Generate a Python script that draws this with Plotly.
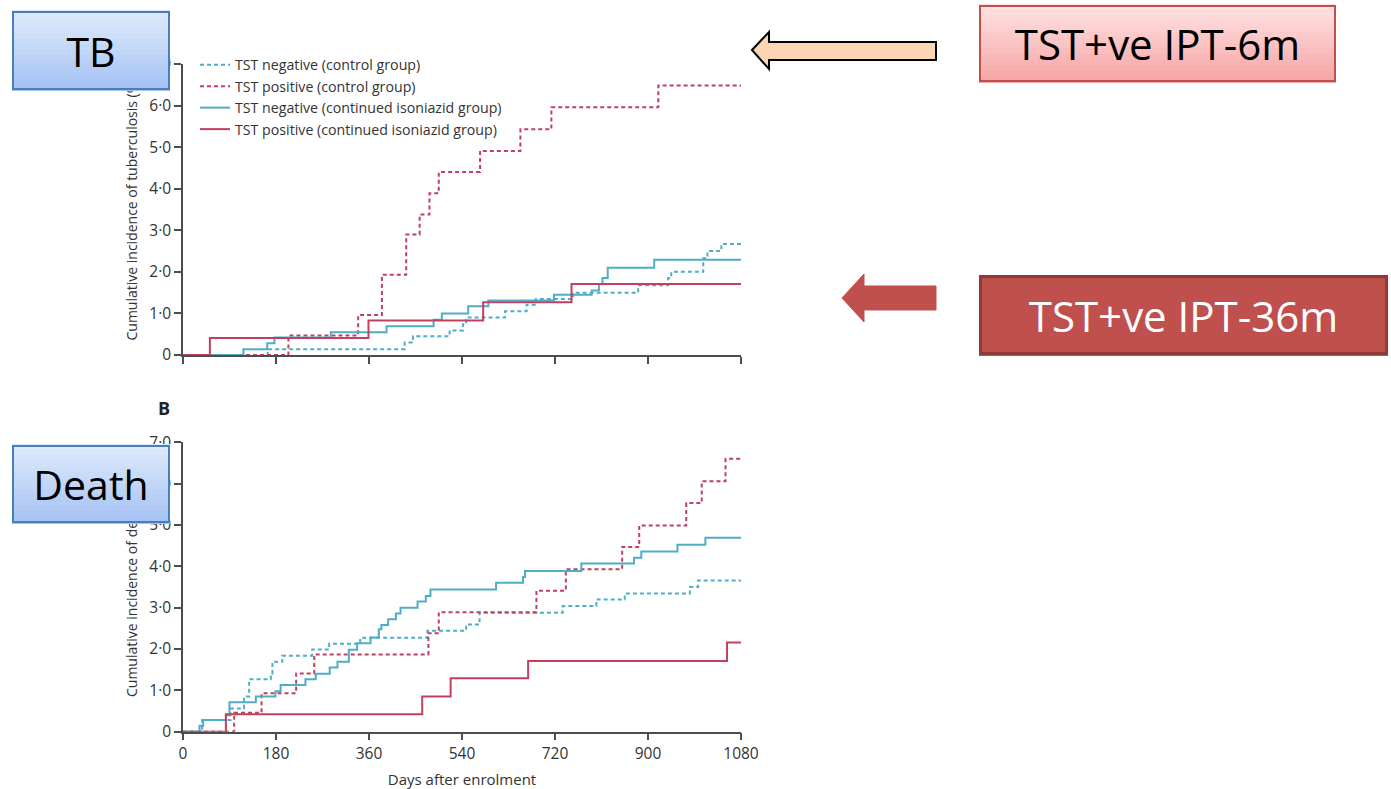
import plotly.graph_objects as go

W, H = 1391, 789

# ---------------- data ----------------
x_ticks = [0, 180, 360, 540, 720, 900, 1080]
x_tick_labels = ["0", "180", "360", "540", "720", "900", "1080"]
y_ticks = [0, 1, 2, 3, 4, 5, 6, 7]
y_tick_labels = ["0", "1·0", "2·0", "3·0", "4·0", "5·0", "6·0", "7·0"]

series_names = [
    "TST negative (control group)",
    "TST positive (control group)",
    "TST negative (continued isoniazid group)",
    "TST positive (continued isoniazid group)",
]

# Panel A: cumulative incidence of tuberculosis (%)
tb_neg_ctrl_days = [0, 164, 429, 445, 516, 542, 548, 623, 665, 683, 755, 881, 939, 945, 1007, 1015, 1042, 1080]
tb_neg_ctrl_vals = [0, 0.14, 0.30, 0.45, 0.59, 0.74, 0.90, 1.05, 1.21, 1.35, 1.50, 1.68, 1.85, 2.00, 2.33, 2.50, 2.67, 2.67]
tb_pos_ctrl_days = [0, 204, 339, 385, 432, 458, 477, 495, 575, 653, 713, 920, 1080]
tb_pos_ctrl_vals = [0, 0.47, 0.96, 1.93, 2.90, 3.38, 3.89, 4.40, 4.91, 5.43, 5.96, 6.48, 6.48]
tb_neg_ipt_days = [0, 117, 163, 177, 286, 394, 485, 501, 552, 591, 718, 791, 805, 812, 822, 912, 1080]
tb_neg_ipt_vals = [0, 0.14, 0.28, 0.42, 0.55, 0.69, 0.85, 1.00, 1.17, 1.31, 1.45, 1.55, 1.70, 1.85, 2.10, 2.29, 2.29]
tb_pos_ipt_days = [0, 52, 359, 581, 752, 1080]
tb_pos_ipt_vals = [0, 0.41, 0.83, 1.27, 1.71, 1.71]

# Panel B: cumulative incidence of death (%)
d_neg_ctrl_days = [0, 37, 92, 118, 128, 170, 173, 192, 250, 283, 343, 473, 548, 574, 735, 800, 855, 981, 997, 1080]
d_neg_ctrl_vals = [0, 0.28, 0.56, 0.85, 1.27, 1.41, 1.69, 1.84, 1.99, 2.13, 2.27, 2.44, 2.59, 2.88, 3.04, 3.20, 3.34, 3.50, 3.66, 3.66]
d_pos_ctrl_days = [0, 99, 152, 219, 254, 475, 495, 684, 741, 850, 883, 974, 1004, 1050, 1080]
d_pos_ctrl_vals = [0, 0.46, 0.93, 1.41, 1.87, 2.38, 2.89, 3.41, 3.93, 4.47, 4.99, 5.53, 6.06, 6.60, 6.60]
d_neg_ipt_days = [0, 32, 39, 83, 90, 141, 179, 189, 237, 257, 284, 299, 321, 337, 363, 379, 384, 397, 412, 421,
                  454, 470, 479, 606, 658, 662, 771, 873, 887, 957, 1011, 1080]
d_neg_ipt_vals = [0, 0.145, 0.28, 0.40, 0.71, 0.85, 0.98, 1.13, 1.27, 1.40, 1.55, 1.69, 1.98, 2.14, 2.28, 2.48, 2.58,
                  2.72, 2.86, 3.00, 3.15, 3.28, 3.44, 3.60, 3.74, 3.89, 4.07, 4.21, 4.36, 4.52, 4.69, 4.69]
d_pos_ipt_days = [0, 83, 463, 518, 668, 1053, 1080]
d_pos_ipt_vals = [0, 0.42, 0.85, 1.29, 1.71, 2.16, 2.16]

# ---------------- styling ----------------
TEAL = "#4fadc6"
RED = "#c0405e"
DASH = "4px,3px"
FONT = "Open Sans"
AX = "#4d4d4d"
TXT = "#333333"


def px(x):
    return x / W


def py(y):
    return 1 - y / H


styles = [
    dict(color=TEAL, dash=DASH, width=2),
    dict(color=RED, dash=DASH, width=2),
    dict(color=TEAL, dash="solid", width=2),
    dict(color=RED, dash="solid", width=2),
]

fig = go.Figure()
top = [(tb_neg_ctrl_days, tb_neg_ctrl_vals), (tb_pos_ctrl_days, tb_pos_ctrl_vals),
       (tb_neg_ipt_days, tb_neg_ipt_vals), (tb_pos_ipt_days, tb_pos_ipt_vals)]
bot = [(d_neg_ctrl_days, d_neg_ctrl_vals), (d_pos_ctrl_days, d_pos_ctrl_vals),
       (d_neg_ipt_days, d_neg_ipt_vals), (d_pos_ipt_days, d_pos_ipt_vals)]

for i, (d, v) in enumerate(top):
    fig.add_trace(go.Scatter(x=d, y=v, mode="lines", line=dict(shape="hv", **styles[i]),
                             name=series_names[i], xaxis="x", yaxis="y", legendgroup=str(i)))
for i, (d, v) in enumerate(bot):
    fig.add_trace(go.Scatter(x=d, y=v, mode="lines", line=dict(shape="hv", **styles[i]),
                             name=series_names[i], xaxis="x2", yaxis="y2", legendgroup=str(i),
                             showlegend=False))

xdom = [px(183), px(741)]
axis_common = dict(showline=True, linecolor=AX, linewidth=1.5, ticks="outside", ticklen=7,
                   tickcolor=AX, tickwidth=1.5, showgrid=False, zeroline=False,
                   tickfont=dict(family=FONT, size=15.5, color=TXT))

fig.update_layout(
    width=W, height=H, margin=dict(l=0, r=0, t=0, b=0, autoexpand=False),
    paper_bgcolor="white", plot_bgcolor="white",
    font=dict(family=FONT, size=14, color=TXT),
    xaxis=dict(domain=xdom, range=[0, 1080], anchor="y", tickvals=x_ticks, showticklabels=False, **axis_common),
    yaxis=dict(domain=[py(355), py(64)], range=[0, 7], anchor="x", tickvals=y_ticks, ticktext=y_tick_labels,
               **axis_common),
    xaxis2=dict(domain=xdom, range=[0, 1080], anchor="y2", tickvals=x_ticks, ticktext=x_tick_labels,
                title=dict(text="Days after enrolment", standoff=11, font=dict(family=FONT, size=15, color=TXT)),
                **axis_common),
    yaxis2=dict(domain=[py(731.7), py(442.3)], range=[0, 7], anchor="x2", tickvals=y_ticks,
                ticktext=y_tick_labels, **axis_common),
    legend=dict(x=px(195), y=py(49), xanchor="left", yanchor="top", bgcolor="rgba(0,0,0,0)",
                font=dict(family=FONT, size=14.2, color=TXT), tracegroupgap=0, itemwidth=30),
    showlegend=True,
)

ann = []
# y-axis titles (as annotations so the label boxes can sit on top of them)
ann.append(dict(text="Cumulative incidence of tuberculosis (%)", x=px(131), y=py(209.5), xref="paper",
                yref="paper", xanchor="center", yanchor="middle", textangle=-90, showarrow=False,
                font=dict(family=FONT, size=14, color=TXT)))
ann.append(dict(text="Cumulative incidence of death (%)", x=px(131), y=py(587), xref="paper",
                yref="paper", xanchor="center", yanchor="middle", textangle=-90, showarrow=False,
                font=dict(family=FONT, size=14, color=TXT)))
ann.append(dict(text="<b>B</b>", x=px(164), y=py(408), xref="paper", yref="paper", showarrow=False,
                xanchor="center", yanchor="middle", font=dict(family=FONT, size=18, color="#222")))


def lerp(c1, c2, t):
    return "rgb(%d,%d,%d)" % tuple(round(a + (b - a) * t) for a, b in zip(c1, c2))


def label_box(x0, y0, x1, y1, ctop, cbot, border, bw, text, fcolor, fsize, n=14):
    h = (y1 - y0) / n
    for i in range(n):
        yc = y0 + (i + 0.5) * h
        t = i / (n - 1) if n > 1 else 0
        ann.append(dict(text=" ", x=px((x0 + x1) / 2), y=py(yc), xref="paper", yref="paper",
                        xanchor="center", yanchor="middle", showarrow=False, width=x1 - x0,
                        height=h + 1, bgcolor=lerp(ctop, cbot, t), borderpad=0, borderwidth=0))
    ann.append(dict(text=text, x=px((x0 + x1) / 2), y=py((y0 + y1) / 2), xref="paper", yref="paper",
                    xanchor="center", yanchor="middle", showarrow=False, width=x1 - x0 - 2 * bw,
                    height=y1 - y0 - 2 * bw, bgcolor="rgba(0,0,0,0)", bordercolor=border, borderwidth=bw,
                    borderpad=0, font=dict(family=FONT, size=fsize, color=fcolor)))


BLUE_T, BLUE_B = (222, 234, 252), (166, 195, 243)
label_box(12, 11, 170, 90, BLUE_T, BLUE_B, "#4a7ebb", 2, "TB", "black", 41)
label_box(12, 445, 170, 523, BLUE_T, BLUE_B, "#4a7ebb", 2, "Death", "black", 41)
label_box(979, 5, 1336, 82, (254, 226, 226), (246, 166, 166), "#c0504d", 2, "TST+ve IPT-6m", "black", 42)
label_box(979, 275, 1388, 355, (192, 80, 77), (192, 80, 77), "#8e3a37", 3, "TST+ve IPT-36m", "white", 42, n=1)


def path(pts):
    return "M " + " L ".join("%.5f,%.5f" % (px(a), py(b)) for a, b in pts) + " Z"


shapes = [
    dict(type="path", xref="paper", yref="paper",
         path=path([(752, 50), (769, 32), (769, 42), (936, 42), (936, 60), (769, 60), (769, 69)]),
         fillcolor="#fcd5b4", line=dict(color="black", width=2)),
    dict(type="path", xref="paper", yref="paper",
         path=path([(842, 298), (864, 274), (864, 286), (936, 286), (936, 310), (864, 310), (864, 322)]),
         fillcolor="#c0504d", line=dict(color="#c0504d", width=1)),
]

fig.update_layout(annotations=ann, shapes=shapes)
fig.write_html("out.html")
